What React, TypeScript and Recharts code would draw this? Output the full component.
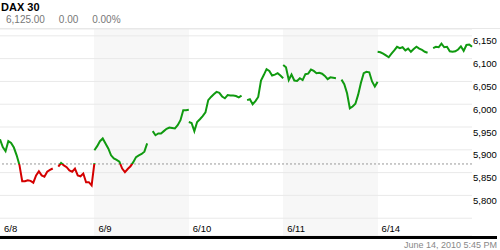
import React from 'react';
import {
  LineChart,
  Line,
  XAxis,
  YAxis,
  CartesianGrid,
  ReferenceLine,
} from 'recharts';

const dayLabels = ['6/8', '6/9', '6/10', '6/11', '6/14'];
const priceTicks = [5750, 5800, 5850, 5900, 5950, 6000, 6050, 6100, 6150];
const prevClose = 5869;

// 15 minute quotes, 9:00 to 17:30 (null = no quote)
const jun8 = [
  5923, 5906, 5897, 5919, 5915, 5905, 5888, 5867, 5831, 5831,
  5833, 5832, 5828, 5844, 5853, 5844, 5841, 5852, 5856, 5859,
  null, 5863, 5871, 5866, 5862, 5855, 5852, 5859, 5844, 5842,
  5848, 5829, 5829, 5822, 5871,
];
const jun9 = [
  5899, 5908, 5919, 5925, 5914, 5903, 5888, 5881, 5878, 5874,
  5859, 5851, 5858, 5864, 5873, 5884, 5888, 5891, 5896, 5914,
  null, 5941, 5932, 5936, 5936, 5941, 5946, 5949, 5948, 5947,
  5954, 5965, 5987, 5987, 5988,
];
const jun10 = [
  5961, 5959, 5941, 5961, 5967, 5974, 5982, 6009, 6016, 6022,
  6027, 6025, 6017, 6013, 6020, 6019, 6019, 6018, 6015, 6019,
  null, 6009, 6011, 6000, 6007, 6016, 6052, 6064, 6077, 6073,
  6063, 6065, 6068, 6063, 6057,
];
const jun11 = [
  6086, 6081, 6053, 6065, 6052, 6051, 6057, 6053, 6066, 6067,
  6076, 6073, 6068, 6069, 6067, 6062, 6055, 6059, 6058, 6057,
  null, 6054, 6044, 6024, 5991, 5995, 6001, 6021, 6047, 6068,
  6071, 6070, 6050, 6039, 6049,
];
const jun14 = [
  6115, 6114, 6111, 6107, 6103, 6111, 6118, 6126, 6123, 6125,
  6118, 6122, 6115, 6121, 6126, 6122, 6119, 6115, 6113, null,
  6123, 6126, 6125, 6133, 6125, 6126, 6116, 6115, 6116, 6120,
  6127, 6117, 6130, 6131, 6126,
];

const Y_MIN = 5711;
const Y_MAX = 6165;
const PLOT_TOP = 29;
const PLOT_BOTTOM = 236;
const FONT = '"Liberation Sans", Arial, sans-serif';
const GREEN = '#109a10';
const RED = '#d40000';

// one row per quote, x = day index + fraction of the session; null rows split the days
const rows: { t: number; v: number | null }[] = [];
[jun8, jun9, jun10, jun11, jun14].forEach((vals, d) => {
  if (d > 0) rows.push({ t: d, v: null });
  vals.forEach((v, i) => rows.push({ t: d + i / (vals.length - 1), v }));
});

const splitAt = (Y_MAX - prevClose) / (Y_MAX - Y_MIN);

function DayTick({ x, y, payload }: any) {
  return (
    <text x={x + 4} y={y - 4.5} fontSize={9.5} fontFamily={FONT} fill="#000">
      {dayLabels[payload.value]}
    </text>
  );
}

function PriceTick({ x, y, payload }: any) {
  if (payload.value === priceTicks[0]) return <g />;
  return (
    <text x={x + 1} y={y + 8.5} fontSize={9.5} fontFamily={FONT} fill="#000">
      {payload.value.toLocaleString('en-US')}
    </text>
  );
}

export default function App() {
  return (
    <div style={{ position: 'relative', width: 500, height: 250, fontFamily: FONT, background: '#fff' }}>
      <style>{'body{margin:0}'}</style>
      <div style={{ position: 'absolute', left: 1, top: 0, fontSize: 11, fontWeight: 'bold', lineHeight: '14px' }}>
        DAX 30
      </div>
      <div style={{ position: 'absolute', left: 6, top: 13, fontSize: 10, color: '#777', lineHeight: '13px', whiteSpace: 'pre' }}>
        {'6,125.00     0.00     0.00%'}
      </div>
      <div style={{ position: 'absolute', left: 0, top: 28, width: 500, height: 1, background: '#e8e8e8' }} />
      <LineChart
        width={500}
        height={250}
        data={rows}
        margin={{ top: PLOT_TOP, right: 0, bottom: 0, left: 0 }}
      >
        <defs>
          <linearGradient id="upDown" gradientUnits="userSpaceOnUse" x1="0" y1={PLOT_TOP} x2="0" y2={PLOT_BOTTOM}>
            <stop offset={0} stopColor={GREEN} />
            <stop offset={splitAt} stopColor={GREEN} />
            <stop offset={splitAt} stopColor={RED} />
            <stop offset={1} stopColor={RED} />
          </linearGradient>
        </defs>
        {/* alternate day shading */}
        <CartesianGrid
          horizontal={false}
          stroke="transparent"
          verticalFill={['#ffffff', '#f7f7f7']}
          fillOpacity={1}
        />
        <CartesianGrid vertical={false} stroke="#e9e9e9" />
        <XAxis
          dataKey="t"
          type="number"
          domain={[0, 5]}
          ticks={[0, 1, 2, 3, 4]}
          interval={0}
          height={14}
          axisLine={false}
          tickLine={false}
          tickSize={0}
          tickMargin={0}
          tick={<DayTick />}
        />
        <YAxis
          orientation="right"
          type="number"
          domain={[Y_MIN, Y_MAX]}
          ticks={priceTicks}
          interval={0}
          width={28}
          axisLine={false}
          tickLine={false}
          tickSize={0}
          tickMargin={0}
          tick={<PriceTick />}
        />
        <ReferenceLine y={prevClose} stroke="#999" strokeDasharray="2 2" />
        <Line
          type="linear"
          dataKey="v"
          stroke="url(#upDown)"
          strokeWidth={2}
          dot={false}
          connectNulls={false}
          isAnimationActive={false}
        />
      </LineChart>
      <div style={{ position: 'absolute', left: 0, top: 236, width: 497, height: 3, background: '#000' }} />
      <div style={{ position: 'absolute', right: 3, top: 240, fontSize: 9, color: '#888', lineHeight: '10px' }}>
        June 14, 2010 5:45 PM
      </div>
    </div>
  );
}
